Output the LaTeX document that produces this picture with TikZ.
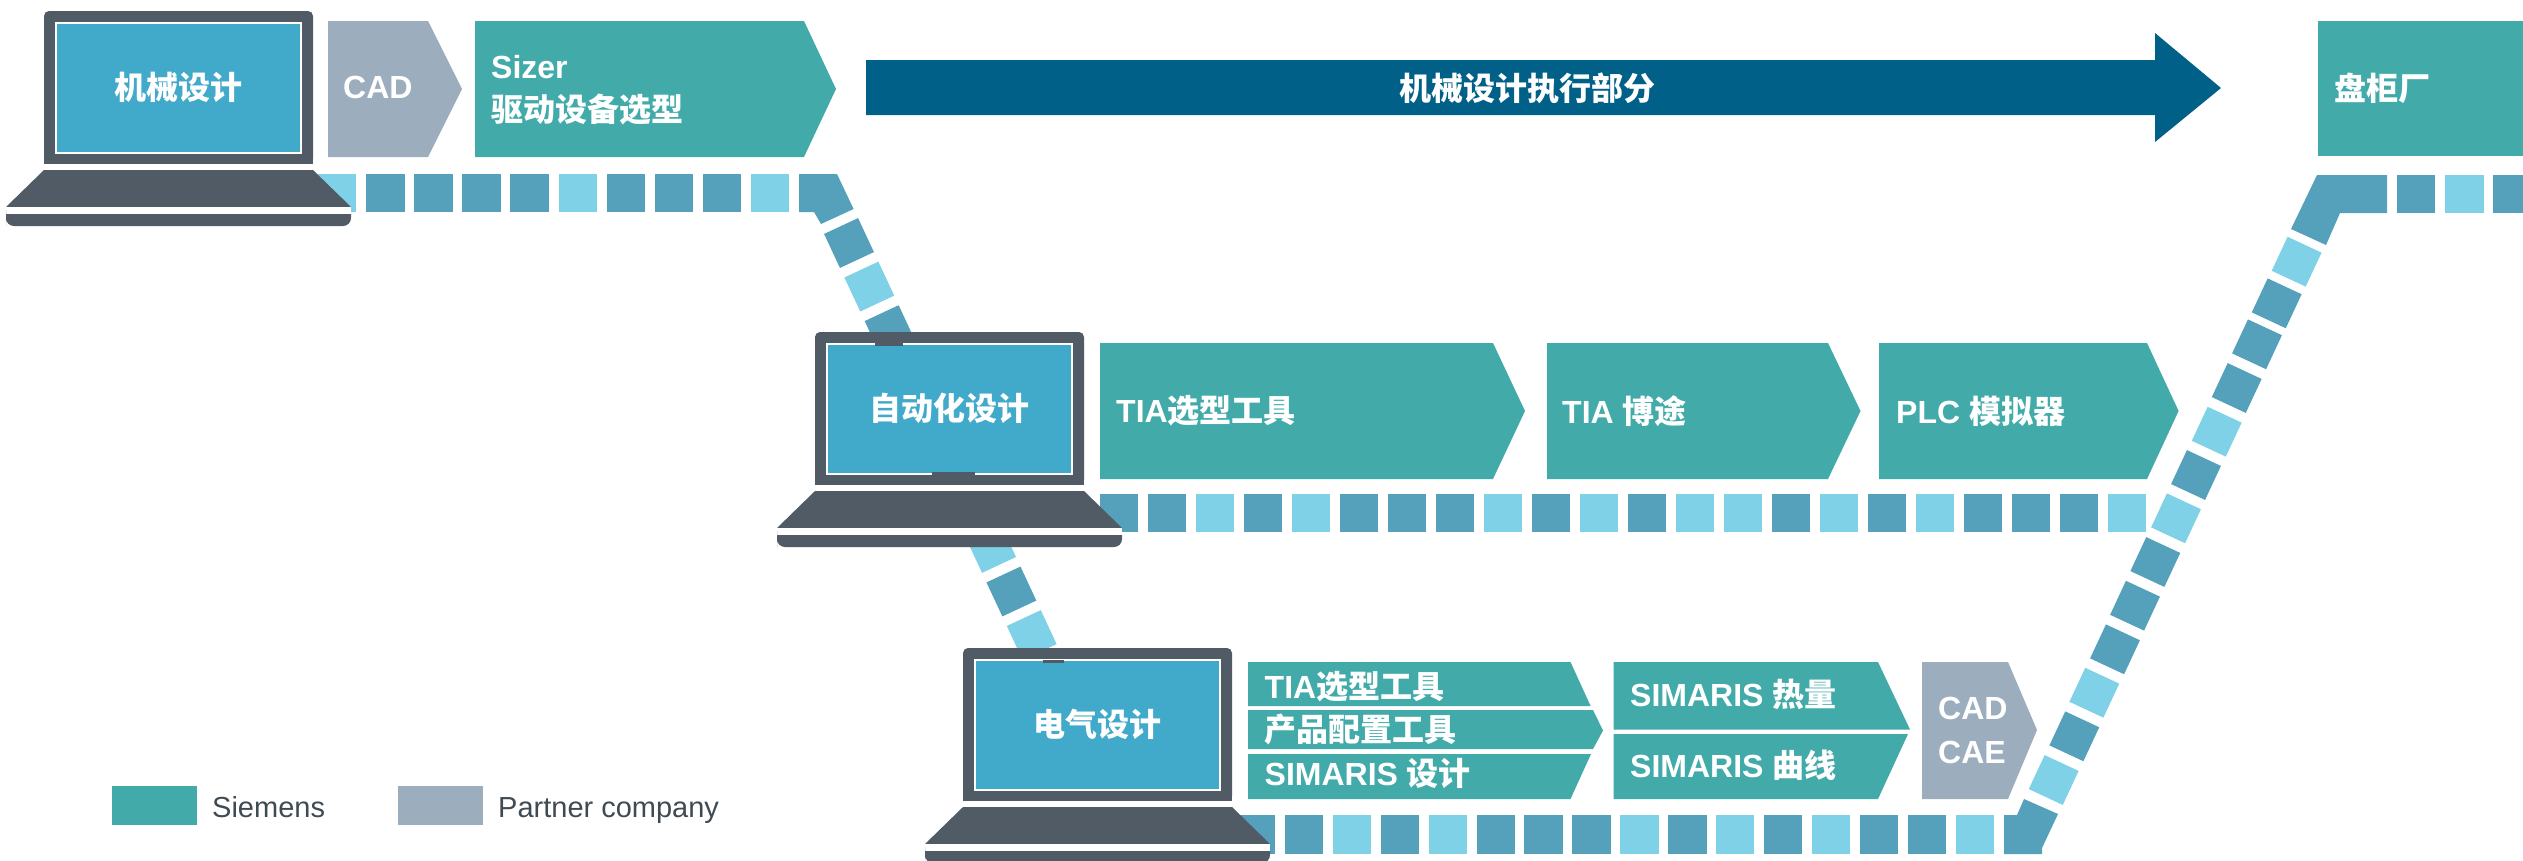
\documentclass[tikz,border=0pt]{standalone}
\usepackage{fontspec}
\setmainfont{Liberation Sans}
\newfontfamily\cjk{Noto Sans CJK SC}
\usetikzlibrary{positioning}
\definecolor{siemens}{HTML}{42ABAA}
\definecolor{partner}{HTML}{9CAEBD}
\definecolor{screenblue}{HTML}{41A9C9}
\definecolor{laptopgrey}{HTML}{505B66}
\definecolor{tiledark}{HTML}{55A0BA}
\definecolor{tilelight}{HTML}{7ED1E6}
\definecolor{flowblue}{HTML}{006088}
\definecolor{legendtext}{HTML}{3F4A52}
\tikzstyle{lbl} = [text=white, font=\bfseries\fontsize{32}{38}\selectfont, anchor=west, inner sep=0pt]
\tikzstyle{mid} = [lbl, anchor=center]
\tikzstyle{leg} = [text=legendtext, font=\fontsize{29}{34}\selectfont, anchor=base west, inner sep=0pt]
\tikzstyle{tileD} = [fill=tiledark]
\tikzstyle{tileL} = [fill=tilelight]
\tikzstyle{rot} = [minimum size=37.5pt, inner sep=0pt, outer sep=0pt]
\newcommand{\zh}[1]{{\cjk #1}}
% laptop drawn at offset (#1,#2), label node #3 with text #4
\newcommand{\laptop}[4]{
\begin{scope}[shift={(#1,#2)}]
\fill [laptopgrey, rounded corners=5pt] (44,164) -- (44,11) -- (313,11) -- (313,164) -- cycle;
\fill [laptopgrey] (44,150) rectangle (313,164);
\fill [white] (44,164) rectangle (313,170);
\filldraw [fill=screenblue, draw=white, line width=1.2pt] (56,23) rectangle (301,153);
\fill [laptopgrey] (44,170) -- (313,170) -- (351,207) -- (6,207) -- cycle;
\fill [white] (6,207) rectangle (351,214);
\fill [laptopgrey] (6,214) -- (351,214) -- (351,218) [rounded corners=8pt] -- (351,226) -- (6,226) -- (6,218) [sharp corners] -- cycle;
\node (#3) [mid] at (178.5,87) {\zh{#4}};
\end{scope}
}

\begin{document}
\begin{tikzpicture}[x=1pt,y=-1pt]

\useasboundingbox (0,0) rectangle (2523,860);
\clip (0,0) rectangle (2523,860);

% dashed tracks
\foreach \c [count=\i from 0] in {L,D,D,D,D,L,D,D,D,L}
  \fill [tile\c] ({318+48.1*\i},174) rectangle +(38.4,38);
\foreach \c [count=\i from 0] in {D,D,L,D,L,D,D,D,L,D,L,D,L,L,D,L,D,L,D,D,D,L}
  \fill [tile\c] ({1100+48*\i},494) rectangle +(38.4,38);
\foreach \c [count=\i from 0] in {D,D,L,D,L,D,D,D,L,D,L,D,L,D,D,L}
  \fill [tile\c] ({1237+47.9*\i},815) rectangle +(38.4,39);

\fill [tileD] (799,174) -- (837,174) -- (853.6,209) -- (821,224) -- (814,212) -- (799,212) -- cycle;
\fill [tileD] (2004,815) -- (2017,815) -- (2024,799) -- (2058,814) -- (2042,848) -- (2042,854) -- (2004,854) -- cycle;
\fill [tileD] (2317,175) -- (2387,175) -- (2387,213) -- (2340,213) -- (2326,245) -- (2291,229) -- cycle;
\fill [tileD] (2397,175) rectangle +(38,38);
\fill [tileL] (2445,175) rectangle +(39,38);
\fill [tileD] (2493,175) rectangle +(38,38);

\foreach \k/\c in {0/D,1/L,2/D,7/L,8/D,9/L,10/D}
  \node (down\k) [rot, tile\c, rotate=-65] at ({849+20.3*\k},{243+43.56*\k}) {};
\foreach \x/\y/\c [count=\j from 0] in {2053.7/780/L,2074.3/736.3/D,2094.3/692.7/L,2115/649.3/D,2135/605.7/D,2155.3/562/D,2176/518.3/L,2196/475/D,2216.7/431.7/L,2236.7/388/D,2257/344.3/D,2276.7/303.3/D,2296.6/261.7/L}
  \node (up\j) [rot, tile\c, rotate=65] at (\x,\y) {};

% laptops
\laptop{0}{0}{mech}{机械设计}
\laptop{771}{321}{auto}{自动化设计}
\laptop{919}{637}{elec}{电气设计}
\fill [laptopgrey] (875,343) rectangle (903,345.5);
\fill [laptopgrey] (932,472) rectangle (975,474.5);
\fill [laptopgrey] (1043,660) rectangle (1064,662.5);

% first row
\fill [partner] (328,21) -- (428,21) -- (462,89) -- (428,157) -- (328,157) -- cycle;
\fill [siemens] (475,21) -- (804,21) -- (836,89) -- (804,157) -- (475,157) -- cycle;
\fill [flowblue] (866,60) -- (2155,60) -- (2155,33) -- (2221,88) -- (2155,142) -- (2155,115) -- (866,115) -- cycle;
\fill [siemens] (2318,21) rectangle (2523,156);
\node (cad) [lbl] at (343,87) {CAD};
\node (sizer) [lbl] at (491,67) {Sizer};
\node (drive) [lbl] at (491,109) {\zh{驱动设备选型}};
\node (exec) [mid] at (1527,88) {\zh{机械设计执行部分}};
\node (panel) [lbl] at (2334,88) {\zh{盘柜厂}};

% second row
\fill [siemens] (1100,343) -- (1493,343) -- (1525,411) -- (1493,479) -- (1100,479) -- cycle;
\fill [siemens] (1547,343) -- (1828,343) -- (1860.5,411) -- (1828,479) -- (1547,479) -- cycle;
\fill [siemens] (1879,343) -- (2147,343) -- (2178.6,411) -- (2147,479) -- (1879,479) -- cycle;
\node (tia) [lbl] at (1116,411) {TIA\zh{选型工具}};
\node (portal) [lbl] at (1562,411) {TIA \zh{博途}};
\node (plc) [lbl] at (1896,411) {PLC \zh{模拟器}};

% third row
\fill [siemens] (1248,662) -- (1570.5,662) -- (1590.6,706) -- (1248,706) -- cycle;
\fill [siemens] (1248,710) -- (1593,710) -- (1603,730.5) -- (1593,749) -- (1248,749) -- cycle;
\fill [siemens] (1248,754) -- (1591,754) -- (1570.5,799) -- (1248,799) -- cycle;
\fill [siemens] (1613.5,662) -- (1878,662) -- (1910,729.5) -- (1613.5,729.5) -- cycle;
\fill [siemens] (1613.5,734) -- (1908,734) -- (1878,799) -- (1613.5,799) -- cycle;
\fill [partner] (1922,662) -- (2008,662) -- (2037,730) -- (2008,799) -- (1922,799) -- cycle;
\node (tiasel) [lbl] at (1264.5,687) {TIA\zh{选型工具}};
\node (config) [lbl] at (1264.5,729) {\zh{产品配置工具}};
\node (simdes) [lbl] at (1264.5,773) {SIMARIS \zh{设计}};
\node (simheat) [lbl] at (1630,694) {SIMARIS \zh{热量}};
\node (simcurve) [lbl] at (1630,765) {SIMARIS \zh{曲线}};
\node (cadb) [lbl] at (1938,708) {CAD};
\node (cae) [lbl] at (1938,752) {CAE};

% legend
\fill [siemens] (112,786) rectangle (197,825);
\fill [partner] (398,786) rectangle (483,825);
\node (siem) [leg] at (212,817) {Siemens};
\node (part) [leg] at (498,817) {Partner company};

\end{tikzpicture}
\end{document}
